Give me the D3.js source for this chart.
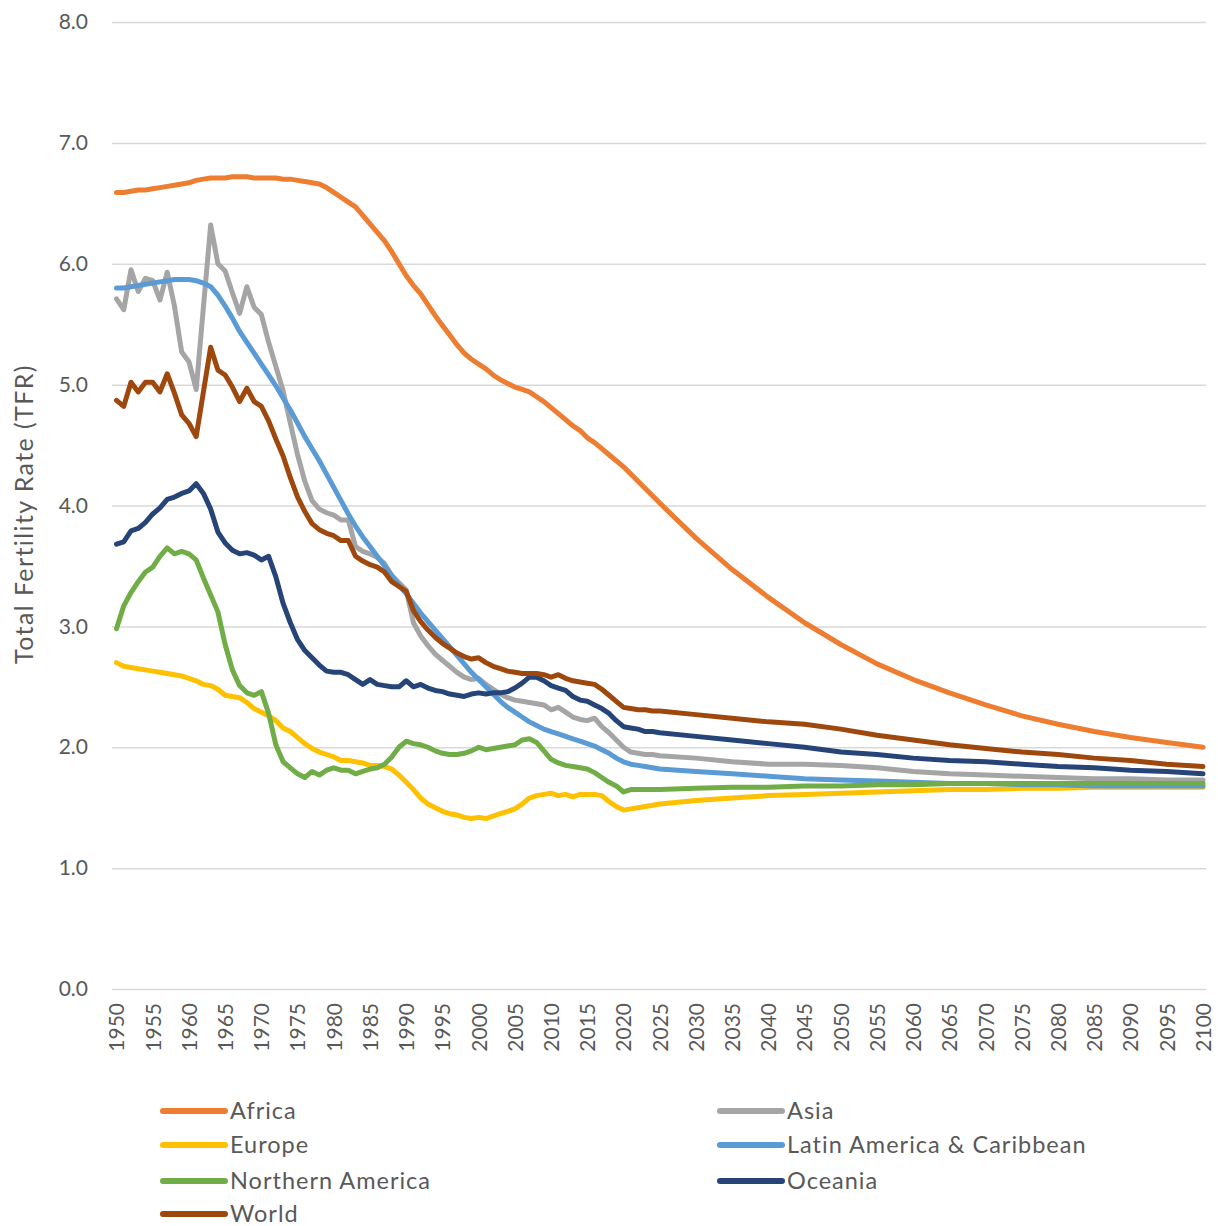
<!DOCTYPE html>
<html><head><meta charset="utf-8">
<script src="https://cdn.jsdelivr.net/npm/d3@7"></script>
<style>html,body{margin:0;padding:0;background:#fff;}svg{display:block;}</style>
</head><body>
<script>
// years: annual 1950-2025, then every five years to 2100
const yearsAnnual = d3.range(1950, 2026);
const yearsLater = [2030,2035,2040,2045,2050,2055,2060,2065,2070,2075,2080,2085,2090,2095,2100];
const years = yearsAnnual.concat(yearsLater);

const africa = [6.59,6.59,6.60,6.61,6.61,6.62,6.63,6.64,6.65,6.66,6.67,6.69,6.70,6.71,6.71,6.71,6.72,6.72,6.72,6.71,6.71,6.71,6.71,6.70,6.70,6.69,6.68,6.67,6.66,6.63,
 6.59,6.55,6.51,6.47,6.40,6.33,6.26,6.19,6.10,6.00,5.90,5.82,5.75,5.66,5.57,5.49,5.41,5.33,5.26,5.21,
 5.17,5.13,5.08,5.04,5.01,4.98,4.96,4.94,4.90,4.86,4.81,4.76,4.71,4.66,4.62,4.56,4.52,4.47,4.42,4.37,
 4.32,4.26,4.20,4.14,4.08,4.02,
 3.73,3.47,3.24,3.03,2.85,2.69,2.56,2.45,2.35,2.26,2.19,2.13,2.08,2.04,2.00];

const asia = [5.71,5.62,5.95,5.77,5.88,5.86,5.70,5.93,5.65,5.27,5.19,4.96,5.64,6.32,6.00,5.94,5.76,5.59,5.81,5.64,
 5.58,5.35,5.15,4.95,4.68,4.42,4.20,4.04,3.97,3.94,3.92,3.88,3.88,3.66,3.62,3.60,3.57,3.52,3.42,3.36,
 3.30,3.03,2.92,2.84,2.77,2.72,2.67,2.62,2.58,2.56,2.57,2.52,2.48,2.44,2.41,2.39,2.38,2.37,2.36,2.35,
 2.31,2.33,2.29,2.25,2.23,2.22,2.24,2.17,2.12,2.06,2.00,1.96,1.95,1.94,1.94,1.93,
 1.91,1.88,1.86,1.86,1.85,1.83,1.80,1.78,1.77,1.76,1.75,1.74,1.74,1.73,1.73];

const europe = [2.70,2.67,2.66,2.65,2.64,2.63,2.62,2.61,2.60,2.59,2.57,2.55,2.52,2.51,2.48,2.43,2.42,2.41,2.37,2.32,
 2.29,2.26,2.22,2.16,2.13,2.08,2.03,1.99,1.96,1.94,1.92,1.89,1.89,1.88,1.87,1.85,1.85,1.84,1.82,1.77,
 1.71,1.65,1.58,1.53,1.50,1.47,1.45,1.44,1.42,1.41,1.42,1.41,1.43,1.45,1.47,1.49,1.53,1.58,1.60,1.61,
 1.62,1.60,1.61,1.59,1.61,1.61,1.61,1.60,1.55,1.51,1.48,1.49,1.50,1.51,1.52,1.53,
 1.56,1.58,1.60,1.61,1.62,1.63,1.64,1.65,1.65,1.66,1.66,1.67,1.67,1.67,1.67];

const latinAmerica = [5.80,5.80,5.81,5.82,5.83,5.84,5.85,5.86,5.87,5.87,5.87,5.86,5.84,5.81,5.74,5.65,5.55,5.44,5.35,5.26,
 5.17,5.08,4.99,4.89,4.79,4.68,4.57,4.47,4.37,4.26,4.15,4.04,3.93,3.83,3.74,3.66,3.58,3.50,3.42,3.34,
 3.27,3.19,3.11,3.04,2.97,2.90,2.83,2.76,2.69,2.62,2.56,2.50,2.44,2.38,2.33,2.29,2.25,2.21,2.18,2.15,
 2.13,2.11,2.09,2.07,2.05,2.03,2.01,1.98,1.95,1.91,1.88,1.86,1.85,1.84,1.83,1.82,
 1.80,1.78,1.76,1.74,1.73,1.72,1.71,1.70,1.70,1.69,1.69,1.68,1.68,1.68,1.68];

const northernAmerica = [2.98,3.17,3.28,3.37,3.45,3.49,3.58,3.65,3.60,3.62,3.60,3.55,3.40,3.26,3.12,2.85,2.64,2.51,2.45,2.43,
 2.46,2.28,2.02,1.88,1.83,1.78,1.75,1.80,1.77,1.81,1.83,1.81,1.81,1.78,1.80,1.82,1.83,1.86,1.92,2.00,
 2.05,2.03,2.02,2.00,1.97,1.95,1.94,1.94,1.95,1.97,2.00,1.98,1.99,2.00,2.01,2.02,2.06,2.07,2.04,1.97,
 1.90,1.87,1.85,1.84,1.83,1.82,1.79,1.75,1.71,1.68,1.63,1.65,1.65,1.65,1.65,1.65,
 1.66,1.67,1.67,1.68,1.68,1.69,1.69,1.70,1.70,1.70,1.70,1.70,1.70,1.70,1.70];

const oceania = [3.68,3.70,3.79,3.81,3.86,3.93,3.98,4.05,4.07,4.10,4.12,4.18,4.10,3.97,3.78,3.69,3.63,3.60,3.61,3.59,
 3.55,3.58,3.41,3.19,3.03,2.89,2.80,2.74,2.68,2.63,2.62,2.62,2.60,2.56,2.52,2.56,2.52,2.51,2.50,2.50,
 2.55,2.50,2.52,2.49,2.47,2.46,2.44,2.43,2.42,2.44,2.45,2.44,2.45,2.45,2.46,2.49,2.53,2.58,2.58,2.55,
 2.51,2.49,2.47,2.42,2.39,2.38,2.35,2.32,2.28,2.22,2.17,2.16,2.15,2.13,2.13,2.12,
 2.09,2.06,2.03,2.00,1.96,1.94,1.91,1.89,1.88,1.86,1.84,1.83,1.81,1.80,1.78];

const world = [4.87,4.82,5.02,4.94,5.02,5.02,4.94,5.09,4.93,4.75,4.68,4.57,4.94,5.31,5.12,5.08,4.98,4.86,4.97,4.86,
 4.82,4.70,4.55,4.41,4.23,4.07,3.95,3.85,3.80,3.77,3.75,3.71,3.71,3.58,3.54,3.51,3.49,3.45,3.37,3.33,
 3.29,3.13,3.04,2.97,2.91,2.86,2.82,2.78,2.75,2.73,2.74,2.70,2.67,2.65,2.63,2.62,2.61,2.61,2.61,2.60,
 2.58,2.60,2.57,2.55,2.54,2.53,2.52,2.48,2.43,2.38,2.33,2.32,2.31,2.31,2.30,2.30,
 2.27,2.24,2.21,2.19,2.15,2.10,2.06,2.02,1.99,1.96,1.94,1.91,1.89,1.86,1.84];

const seriesNames = ["Africa","Asia","Europe","Latin America & Caribbean","Northern America","Oceania","World"];
const seriesColors = ["#ED7D31","#A5A5A5","#FFC000","#5B9BD5","#70AD47","#264478","#9E480E"];
const seriesValues = [africa, asia, europe, latinAmerica, northernAmerica, oceania, world];
const drawOrder = [0,1,2,3,4,5,6];
const yTicks = [0,1,2,3,4,5,6,7,8];
const xTicks = d3.range(1950, 2101, 5);

const W = 1218, H = 1226;
const svg = d3.select("body").append("svg").attr("width", W).attr("height", H);
const FONT = "Lato, 'Open Sans', sans-serif";
const TXT = "#595959";

const x = d3.scaleLinear().domain([1950, 2100]).range([116.5, 1203]);
const y = d3.scaleLinear().domain([0, 8]).range([989, 22]);

// gridlines
svg.append("g").attr("transform", "translate(1206,0)")
  .call(d3.axisRight(y).tickValues(yTicks).tickSize(-(1206-112)).tickFormat(""))
  .call(g => g.select(".domain").remove())
  .call(g => g.selectAll("line").attr("stroke", "#d9d9d9").attr("stroke-width", 1.5));

// y axis labels
svg.append("g").attr("transform", "translate(112,0)")
  .call(d3.axisLeft(y).tickValues(yTicks).tickSize(0).tickPadding(24).tickFormat(d3.format(".1f")))
  .call(g => g.select(".domain").remove())
  .call(g => g.selectAll("text").attr("fill", TXT).attr("font-family", FONT).attr("font-size", 21));

// x axis labels
const xa = svg.append("g").attr("transform", "translate(0,989)")
  .call(d3.axisBottom(x).tickValues(xTicks).tickSize(0).tickFormat(d3.format("d")));
xa.select(".domain").remove();
xa.selectAll("text")
  .attr("fill", TXT).attr("font-family", FONT).attr("font-size", 21)
  .attr("transform", "rotate(-90)")
  .attr("text-anchor", "end").attr("dy", "0.35em").attr("x", -14).attr("y", 0);

// y title
svg.append("text").attr("transform", "translate(33,514) rotate(-90)")
  .attr("text-anchor", "middle").attr("fill", TXT).attr("font-family", FONT).attr("font-size", 25)
  .attr("letter-spacing", 1.4)
  .text("Total Fertility Rate (TFR)");

// lines
const line = d3.line().x((d, i) => x(years[i])).y(d => y(d));
drawOrder.forEach(k => {
  svg.append("path").datum(seriesValues[k])
    .attr("fill", "none").attr("stroke", seriesColors[k])
    .attr("stroke-width", 5).attr("stroke-linejoin", "round").attr("stroke-linecap", "round")
    .attr("d", line);
});

// legend
const legendPos = [
  [163, 1111], [720, 1111],
  [163, 1145], [720, 1145],
  [163, 1181], [720, 1181],
  [163, 1214]
];
seriesNames.forEach((name, k) => {
  const [lx, ly] = legendPos[k];
  const g = svg.append("g").attr("transform", `translate(${lx},${ly})`);
  g.append("line").attr("x1", 0).attr("x2", 62).attr("y1", 0).attr("y2", 0)
    .attr("stroke", seriesColors[k]).attr("stroke-width", 6).attr("stroke-linecap", "round");
  g.append("text").attr("x", 67).attr("y", 0).attr("dy", "0.35em")
    .attr("fill", TXT).attr("font-family", FONT).attr("font-size", 23.5)
    .attr("letter-spacing", 1)
    .text(name);
});
</script>
</body></html>
